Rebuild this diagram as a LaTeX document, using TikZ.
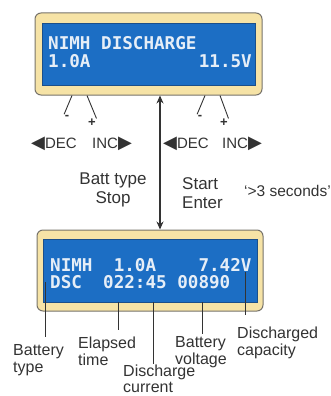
\documentclass[tikz,border=0pt]{standalone}
\usepackage{fontspec}
\setmainfont{Liberation Sans}
\newfontfamily\lcdfont{DejaVu Sans Mono}
\newfontfamily\symfont{DejaVu Sans}
\usetikzlibrary{arrows.meta}
\definecolor{lcdblue}{HTML}{1C6EC4}
\definecolor{lcdedge}{HTML}{1B4F8A}
\definecolor{bezel}{HTML}{F6E3A6}
\definecolor{bezeledge}{HTML}{77736A}
\definecolor{lcdtext}{HTML}{E6EEF7}
\definecolor{labelgray}{HTML}{333333}
\definecolor{linegray}{HTML}{333333}
\newcommand{\lefttri}{{\symfont\fontsize{18}{18}\selectfont ◀}}
\newcommand{\righttri}{{\symfont\fontsize{18}{18}\selectfont ▶}}
\begin{document}
\begin{tikzpicture}[x=1pt,y=-1pt,
  frame/.style={draw=bezeledge, fill=bezel, line width=1pt, rounded corners=6pt, inner sep=0pt},
  screen/.style={draw=lcdedge, fill=lcdblue, line width=0.6pt, inner sep=0pt},
  lcd/.style={inner sep=0pt, text=lcdtext, font=\lcdfont\bfseries\fontsize{17.6}{18}\selectfont},
  lbl/.style={inner sep=0pt, text=labelgray, align=left, font=\fontsize{16}{17}\selectfont},
  key/.style={inner sep=0pt, text=labelgray, font=\fontsize{15}{16}\selectfont},
  sign/.style={inner sep=0.5pt, text=labelgray, font=\bfseries\fontsize{13}{13}\selectfont},
  callout/.style={draw=linegray, line width=0.9pt}
]
\useasboundingbox (0,0) rectangle (331,396);

% Upper display
\node[frame, minimum width=227pt, minimum height=82pt] (topframe) at (148.5,54) {};
\node[screen, minimum width=213pt, minimum height=62pt] (topscreen) at (148.5,54) {};
\node[lcd, anchor=base west] (t1) at (48,50) {NIMH DISCHARGE};
\node[lcd, anchor=base west] (t2) at (48,67) {1.0A};
\node[lcd, anchor=base east] (t3) at (252,67) {11.5V};

% Lower display
\node[frame, minimum width=226pt, minimum height=81pt] (botframe) at (150,270.5) {};
\node[screen, minimum width=214pt, minimum height=63pt] (botscreen) at (150,270.5) {};
\node[lcd, anchor=base west] (b1) at (50,271) {NIMH\ \ 1.0A\ \ \ \ 7.42V};
\node[lcd, anchor=base west] (b2) at (50,288) {DSC\ \ 022:45\ 00890};

% Keys under the upper display
\node[sign] (minusL) at (67,117) {-};
\node[sign] (plusL) at (92,123) {+};
\node[sign] (minusR) at (200,117) {-};
\node[sign] (plusR) at (224,123) {+};
\coordinate (kL1) at (72,0);
\coordinate (kL2) at (87,0);
\coordinate (kR1) at (205,0);
\coordinate (kR2) at (220,0);
\draw[callout] (topframe.south -| kL1) -- (minusL.north west);
\draw[callout] (topframe.south -| kL2) -- (plusL.north east);
\draw[callout] (topframe.south -| kR1) -- (minusR.north west);
\draw[callout] (topframe.south -| kR2) -- (plusR.north east);
\node[key, anchor=base west] (decL) at (31,148) {\lefttri DEC};
\node[key, anchor=base west] (incL) at (92,148) {INC\righttri};
\node[key, anchor=base west] (decR) at (163,148) {\lefttri DEC};
\node[key, anchor=base west] (incR) at (222,148) {INC\righttri};

% Switching between the displays
\coordinate (ax) at (160,0);
\draw[draw=linegray, line width=1.3pt, {Stealth[length=8pt,width=7pt]}-{Stealth[length=8pt,width=7pt]}]
  (topframe.south -| ax) -- (botframe.north -| ax);
\node[lbl, align=center, anchor=north, font=\fontsize{17}{19}\selectfont] (stop) at (113,173) {Batt type\\Stop};
\node[lbl, anchor=north west, font=\fontsize{17}{19}\selectfont] (start) at (182,177) {Start\\Enter};
\node[lbl, anchor=base west, font=\fontsize{15.5}{17}\selectfont] (hold) at (244,196) {`>3 seconds'};

% Callouts under the lower display
\node[lbl, anchor=north west] (typeL) at (13,344) {Battery\\type};
\node[lbl, anchor=north west] (timeL) at (78,337) {Elapsed\\time};
\node[lbl, anchor=north west, font=\fontsize{16}{15.5}\selectfont] (currL) at (123,365) {Discharge\\current};
\node[lbl, anchor=north west] (voltL) at (175,336) {Battery\\voltage};
\node[lbl, anchor=north west] (capL) at (237,327) {Discharged\\capacity};
\coordinate (pType) at (45,282);
\coordinate (pTime) at (118,0);
\coordinate (pCurr) at (153,0);
\coordinate (pVolt) at (202,0);
\coordinate (pCap) at (245,272);
\draw[callout, shorten >=7pt] (pType) -- (pType |- typeL.north);
\draw[callout, shorten >=7pt] (botscreen.south -| pTime) -- (pTime |- timeL.north);
\draw[callout, shorten >=1pt] (botscreen.south -| pCurr) -- (pCurr |- currL.north);
\draw[callout, shorten >=2pt] (botscreen.south -| pVolt) -- (pVolt |- voltL.north);
\draw[callout, shorten >=12pt] (pCap) -- (pCap |- capL.north);
\end{tikzpicture}
\end{document}
